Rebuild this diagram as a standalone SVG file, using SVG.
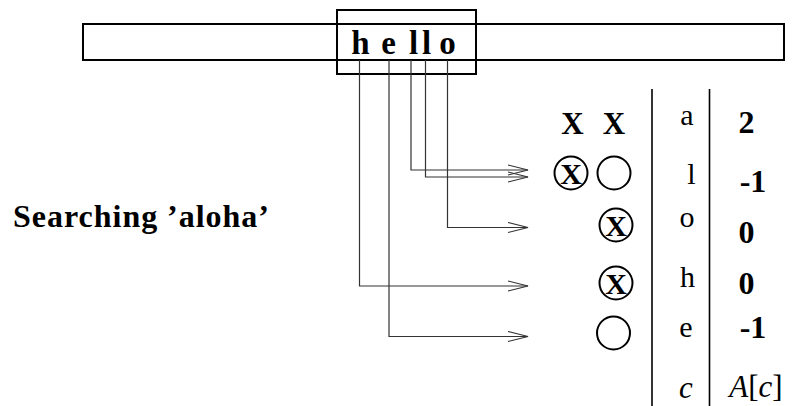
<svg xmlns="http://www.w3.org/2000/svg" width="796" height="406" viewBox="0 0 796 406">
<defs>
<style>
.box{fill:none;stroke:#000;stroke-width:2}
.conn{fill:none;stroke:#333;stroke-width:1.2}
.div{fill:none;stroke:#000;stroke-width:1.6}
.circ{fill:none;stroke:#000;stroke-width:2}
.b{font-family:"Liberation Serif",serif;font-weight:bold;fill:#000}
.r{font-family:"Liberation Serif",serif;fill:#000}
.i{font-family:"Liberation Serif",serif;font-style:italic;fill:#000}
</style>
<marker id="arr" viewBox="0 0 22 12" refX="21" refY="6" markerWidth="22" markerHeight="12" markerUnits="userSpaceOnUse" orient="auto">
<path d="M1,1 L21,6 L1,11" fill="none" stroke="#333" stroke-width="1.2"/>
</marker>
</defs>
<rect width="796" height="406" fill="#fff"/>
<g id="text-strip">
<rect class="box" x="83" y="24" width="701" height="36"/>
</g>
<g id="window">
<rect class="box" x="337" y="10" width="139" height="64"/>
<text class="b" font-size="33" x="360.5 388.5 413.5 426.5 447.5" y="54" text-anchor="middle">hello</text>
</g>
<g id="connectors">
<polyline class="conn" points="411,60 411,170 528,170" marker-end="url(#arr)"/>
<polyline class="conn" points="425.5,60 425.5,177 528,177" marker-end="url(#arr)"/>
<polyline class="conn" points="447.5,60 447.5,227.5 528,227.5" marker-end="url(#arr)"/>
<polyline class="conn" points="359.5,60 359.5,286 528,286" marker-end="url(#arr)"/>
<polyline class="conn" points="389,60 389,336.5 528,336.5" marker-end="url(#arr)"/>
</g>
<g id="label">
<text class="b" font-size="32" x="13" y="227" textLength="256" lengthAdjust="spacing">Searching ’aloha’</text>
</g>
<g id="marks">
<text class="b" font-size="31" x="572.5" y="133.5" text-anchor="middle">X</text>
<text class="b" font-size="31" x="614" y="133.5" text-anchor="middle">X</text>
<g id="mark-l1"><circle class="circ" cx="571" cy="173" r="16.5"/><text class="b" font-size="30" x="571" y="183.5" text-anchor="middle">X</text></g>
<g id="mark-l2"><circle class="circ" cx="614" cy="173" r="16.5"/></g>
<g id="mark-o"><circle class="circ" cx="616" cy="225" r="16.5"/><text class="b" font-size="30" x="616" y="235.5" text-anchor="middle">X</text></g>
<g id="mark-h"><circle class="circ" cx="616" cy="283" r="16.5"/><text class="b" font-size="30" x="616" y="293.5" text-anchor="middle">X</text></g>
<g id="mark-e"><circle class="circ" cx="613.5" cy="333" r="16.5"/></g>
</g>
<g id="table">
<line class="div" x1="652" y1="89" x2="652" y2="406"/>
<line class="div" x1="709.5" y1="89" x2="709.5" y2="406"/>
<text class="r" font-size="30" x="687" y="125" text-anchor="middle">a</text>
<text class="r" font-size="30" x="691.5" y="184" text-anchor="middle">l</text>
<text class="r" font-size="30" x="687" y="227" text-anchor="middle">o</text>
<text class="r" font-size="30" x="687.5" y="286.5" text-anchor="middle">h</text>
<text class="r" font-size="30" x="686" y="337" text-anchor="middle">e</text>
<text class="i" font-size="31" x="686" y="398" text-anchor="middle">c</text>
<text class="b" font-size="32" x="746.5" y="133" text-anchor="middle">2</text>
<text class="b" font-size="32" x="753" y="192" text-anchor="middle">-1</text>
<text class="b" font-size="32" x="746.5" y="242.5" text-anchor="middle">0</text>
<text class="b" font-size="32" x="746.5" y="293.5" text-anchor="middle">0</text>
<text class="b" font-size="32" x="753" y="337.5" text-anchor="middle">-1</text>
<text class="r" font-size="31" x="756" y="397" text-anchor="middle"><tspan font-style="italic">A</tspan>[<tspan font-style="italic">c</tspan>]</text>
</g>
</svg>
